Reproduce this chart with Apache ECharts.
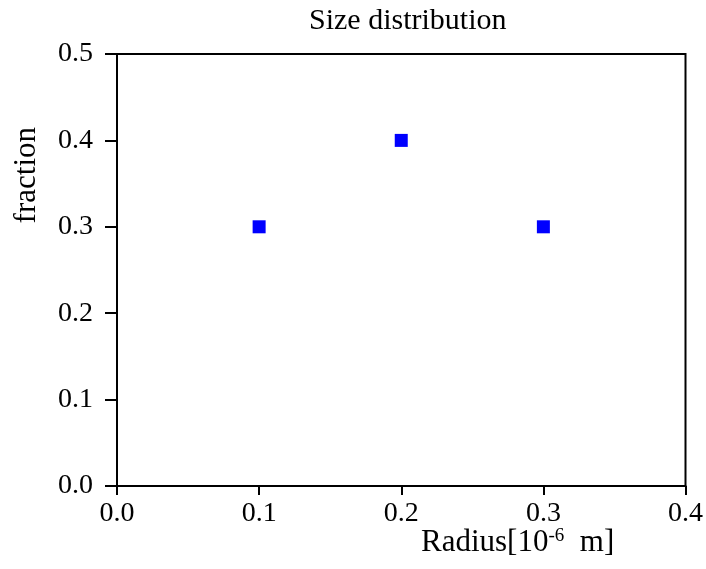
<!DOCTYPE html>
<html>
<head>
<meta charset="utf-8">
<script src="https://cdn.jsdelivr.net/npm/echarts@6/dist/echarts.min.js"></script>
<style>html,body{margin:0;padding:0;background:#fff;}#chart{width:706px;height:569px;}</style>
</head>
<body>
<div id="chart"></div>
<script>
const radius = [0.1, 0.2, 0.3];
const fraction = [0.3, 0.4, 0.3];
const xTicks = ['0.0', '0.1', '0.2', '0.3', '0.4'];
const yTicks = ['0.0', '0.1', '0.2', '0.3', '0.4', '0.5'];
const titleText = 'Size distribution';
const yName = 'fraction';

const font = '"Liberation Serif", "Times New Roman", serif';
const chart = echarts.init(document.getElementById('chart'));
chart.setOption({
  animation: false,
  backgroundColor: '#fff',
  title: {
    text: titleText, left: 304, top: 1,
    textStyle: { fontFamily: font, fontSize: 30, fontWeight: 'normal', color: '#000' }
  },
  grid: { left: 117, top: 54, width: 569, height: 432, show: true, borderColor: '#000', borderWidth: 2, backgroundColor: 'transparent' },
  xAxis: {
    type: 'value', min: 0, max: 0.4, interval: 0.1,
    axisLine: { show: true, onZero: false, lineStyle: { color: '#000', width: 2 } },
    axisTick: { show: true, inside: false, length: 9, lineStyle: { color: '#000', width: 2 } },
    axisLabel: { fontFamily: font, fontSize: 28, color: '#000', margin: 14, formatter: (v, i) => xTicks[i] },
    splitLine: { show: false }
  },
  yAxis: {
    type: 'value', min: 0, max: 0.5, interval: 0.1,
    axisLine: { show: true, onZero: false, lineStyle: { color: '#000', width: 2 } },
    axisTick: { show: true, inside: false, length: 12, lineStyle: { color: '#000', width: 2 } },
    axisLabel: { fontFamily: font, fontSize: 28, color: '#000', margin: 24, formatter: (v, i) => yTicks[i] },
    splitLine: { show: false }
  },
  graphic: [{
    type: 'text', left: 11, top: 127, rotation: Math.PI / 2,
    style: { text: yName, font: '31px ' + font, fill: '#000' }
  }, {
    type: 'text', left: 421, top: 527,
    style: {
      text: '{n|Radius[10}{s|-6}{n|  m]}',
      rich: {
        n: { fontFamily: font, fontSize: 31, fill: '#000' },
        s: { fontFamily: font, fontSize: 19, fill: '#000', verticalAlign: 'top' }
      }
    }
  }],
  series: [{
    type: 'scatter', symbol: 'rect', symbolSize: 13,
    itemStyle: { color: '#0000ff', opacity: 1 },
    data: radius.map((r, i) => [r, fraction[i]])
  }]
});
</script>
</body>
</html>
